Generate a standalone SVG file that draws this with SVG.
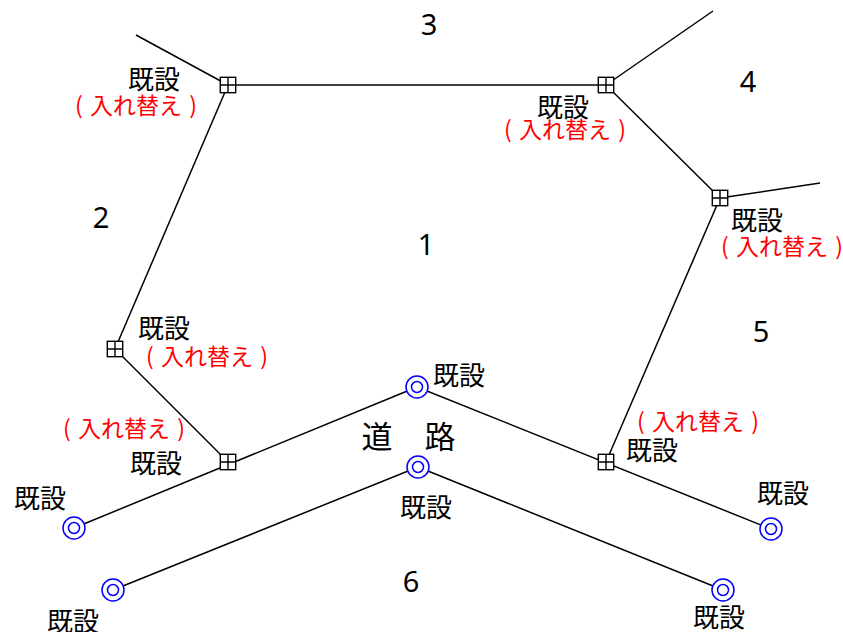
<svg xmlns="http://www.w3.org/2000/svg" width="843" height="632" viewBox="0 0 843 632">
<defs>
<style>
text{font-family:"Noto Sans CJK JP","Noto Sans",sans-serif;text-anchor:middle}
.k{font-size:26px;fill:#000}
.r{font-size:23px;fill:#f00;word-spacing:2px}
.n{font-family:"Noto Sans",sans-serif;font-size:29px;fill:#000}
.w{font-size:31px;fill:#000}
.c line{stroke:#000;stroke-width:1.5;fill:none}
.v rect,.v path{fill:#fff;stroke:#000;stroke-width:1.4}
.o circle{fill:#fff;stroke:#00f;stroke-width:1.5}
</style>
<g id="vb" class="v"><rect x="-7.7" y="-7.7" width="15.4" height="15.4"/><path d="M0-7.7V7.7M-7.7 0H7.7"/></g>
<g id="ob" class="o"><circle r="11"/><circle r="5.5"/></g>
</defs>
<rect width="843" height="632" fill="#fff"/>
<g id="connectors" class="c">
<line x1="136" y1="35" x2="228" y2="85"/>
<line x1="228" y1="85" x2="606" y2="85"/>
<line x1="606" y1="85" x2="713" y2="11"/>
<line x1="606" y1="85" x2="720" y2="198"/>
<line x1="720" y1="198" x2="820" y2="183"/>
<line x1="720" y1="198" x2="606" y2="462"/>
<line x1="228" y1="85" x2="115" y2="349"/>
<line x1="115" y1="349" x2="228" y2="462"/>
<line x1="74" y1="528" x2="417" y2="387"/>
<line x1="417" y1="387" x2="771" y2="529"/>
<line x1="113" y1="590" x2="418" y2="467"/>
<line x1="418" y1="467" x2="723" y2="590"/>
</g>
<g id="n1"><use href="#vb" x="228" y="85"/></g>
<g id="n2"><use href="#vb" x="606" y="85"/></g>
<g id="n3"><use href="#vb" x="720" y="198"/></g>
<g id="n4"><use href="#vb" x="115" y="349"/></g>
<g id="n5"><use href="#vb" x="228" y="462"/></g>
<g id="n6"><use href="#vb" x="606" y="462"/></g>
<g id="n7"><use href="#ob" x="417" y="387"/></g>
<g id="n8"><use href="#ob" x="418" y="467"/></g>
<g id="n9"><use href="#ob" x="74" y="528"/></g>
<g id="n10"><use href="#ob" x="771" y="529"/></g>
<g id="n11"><use href="#ob" x="113" y="590"/></g>
<g id="n12"><use href="#ob" x="723" y="590"/></g>
<g id="labels">
<text class="k" x="154" y="89">既設</text>
<text class="r" x="136" y="114">( 入れ替え )</text>
<text class="k" x="563" y="117">既設</text>
<text class="r" x="565" y="138">( 入れ替え )</text>
<text class="k" x="757" y="230">既設</text>
<text class="r" x="782" y="255">( 入れ替え )</text>
<text class="k" x="164" y="338">既設</text>
<text class="r" x="207" y="365">( 入れ替え )</text>
<text class="k" x="459" y="385">既設</text>
<text class="r" x="124" y="437">( 入れ替え )</text>
<text class="k" x="156" y="473">既設</text>
<text class="r" x="698" y="430">( 入れ替え )</text>
<text class="k" x="652" y="460">既設</text>
<text class="k" x="40" y="508">既設</text>
<text class="k" x="426" y="517">既設</text>
<text class="k" x="783" y="503">既設</text>
<text class="k" x="73" y="631">既設</text>
<text class="k" x="719" y="627">既設</text>
<text class="w" x="377" y="448">道</text>
<text class="w" x="440" y="448">路</text>
<text class="n" x="429" y="35">3</text>
<text class="n" x="748" y="92">4</text>
<text class="n" x="101" y="228">2</text>
<text class="n" x="426" y="255">1</text>
<text class="n" x="761" y="342">5</text>
<text class="n" x="411" y="592">6</text>
</g>
</svg>
